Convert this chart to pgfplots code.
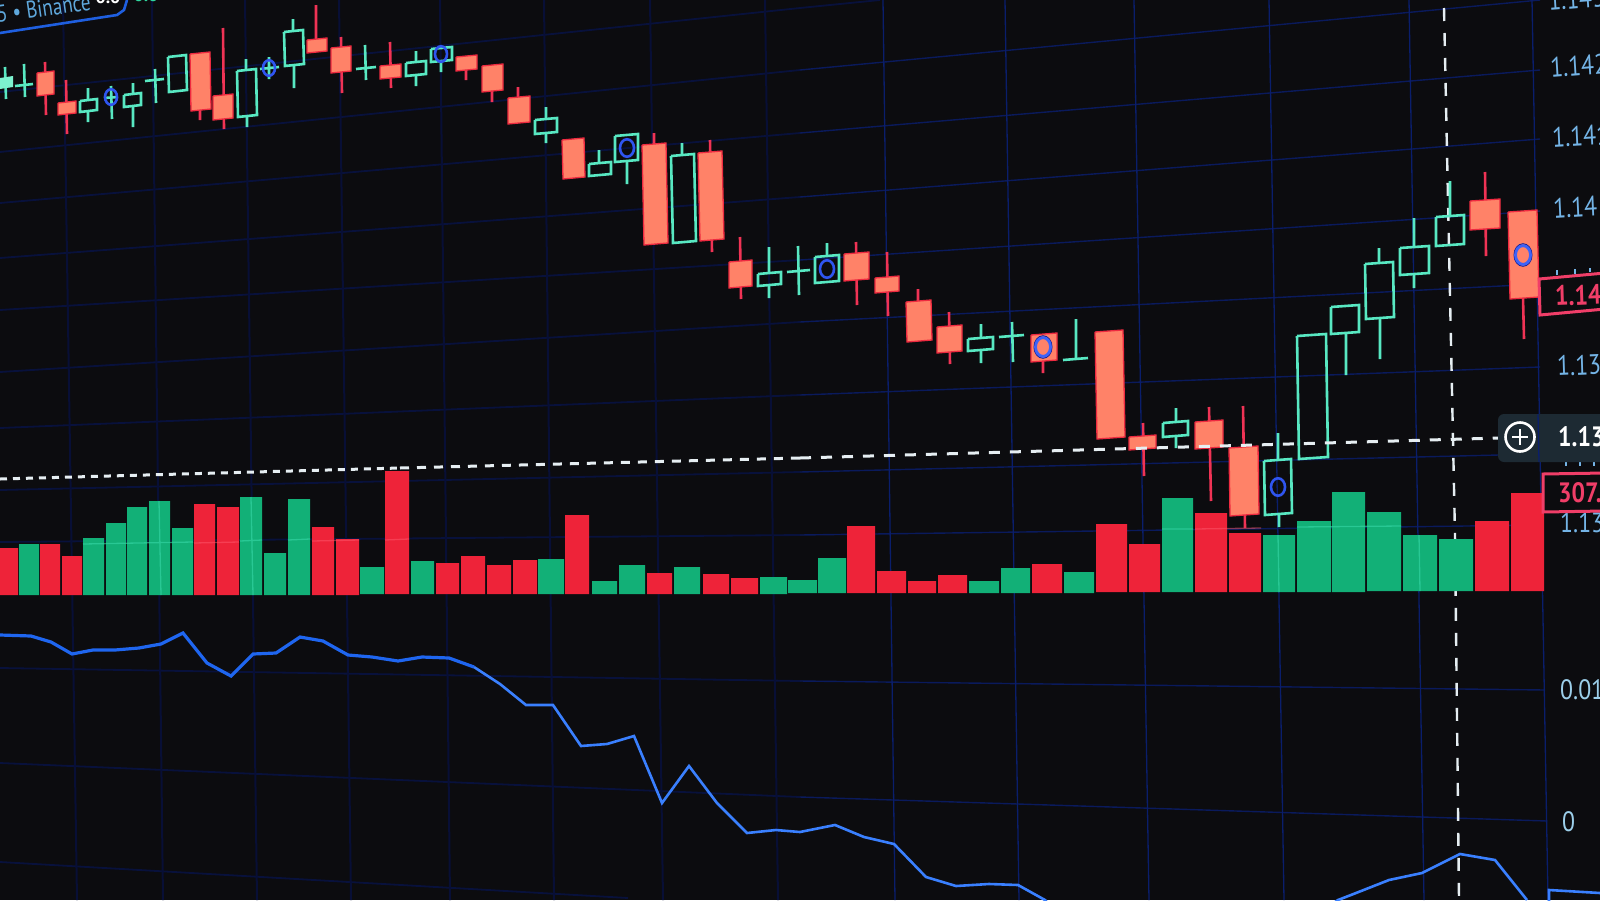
\documentclass[border=0pt]{standalone}
\usepackage{pgfplots}
\usepackage{fontspec}
\setmainfont{PT Sans}
\pgfplotsset{compat=1.18}
\definecolor{bg}{HTML}{0C0C0F}
\definecolor{gridL}{HTML}{08113C}
\definecolor{gridR}{HTML}{0A1A5C}
\definecolor{vgridL}{HTML}{080F36}
\definecolor{vgridR}{HTML}{0A1E6C}
\definecolor{hollowc}{HTML}{58E8C2}
\definecolor{bodyc}{HTML}{FF8268}
\definecolor{bodyedge}{HTML}{EE2A40}
\definecolor{wickc}{HTML}{F03355}
\definecolor{volR}{HTML}{EE2339}
\definecolor{volG}{HTML}{12B077}
\definecolor{ringc}{HTML}{2F55F0}
\definecolor{ringin}{HTML}{0B0B14}
\definecolor{ringdark}{HTML}{1A2090}
\definecolor{ringlight}{HTML}{3D62F8}
\definecolor{osc}{HTML}{1F66F0}
\definecolor{oscb}{HTML}{3A80FF}
\definecolor{axtext}{HTML}{74B4E6}
\definecolor{axtextb}{HTML}{9CCFEA}
\definecolor{pinkc}{HTML}{F03E68}
\definecolor{panelc}{HTML}{1D2A33}
\definecolor{dashc}{HTML}{E6EEF2}
\definecolor{glowG}{HTML}{38D8A8}
\definecolor{glowR}{HTML}{FF5A6E}
\definecolor{tealfill}{HTML}{7DF2CF}
\definecolor{badge}{HTML}{1F5FE0}
\definecolor{badgetxt}{HTML}{5FA8DC}
\definecolor{greentxt}{HTML}{2FD89F}
\begin{document}
\begin{tikzpicture}
\path[use as bounding box, clip] (0,0) rectangle (1600pt,900pt);
\fill[bg] (0,0) rectangle (1600pt,900pt);
\begin{axis}[at={(0,0)},anchor=south west,scale only axis,width=1600pt,height=900pt,
  xmin=0,xmax=1600,ymin=0,ymax=900,y dir=reverse,hide axis,unbounded coords=jump,
  every axis plot/.append style={line join=miter}]
% --- grid: horizontal
\addplot[gridL,line width=1.8,no marks] coordinates {
(0,92)(800,8)(880,0)(nan,nan)
(0,152)(800,70)(nan,nan)(0,203)(800,133)(nan,nan)(0,258)(800,197)(nan,nan)
(0,310)(800,260)(nan,nan)(0,372)(800,322)(nan,nan)(0,428)(800,395)(nan,nan)
(0,490)(800,472)(nan,nan)(0,542)(800,535)(nan,nan)
(0,668)(800,681)(nan,nan)(0,763)(800,797)(nan,nan)(0,862)(628,898)(nan,nan)};
\addplot[gridR,line width=1.4,no marks] coordinates {
(800,70)(1540,0)(nan,nan)(800,133)(1540,70)(nan,nan)(800,197)(1540,139)(nan,nan)
(800,260)(1540,211)(nan,nan)(800,322)(1540,284)(nan,nan)(800,395)(1540,367)(nan,nan)
(800,472)(1540,454)(nan,nan)(800,535)(1540,525)(nan,nan)
(800,681)(1545,690)(nan,nan)(800,797)(1547,821)(nan,nan)};
% --- grid: vertical
\addplot[vgridL,line width=2,no marks] coordinates {
(63,0)(77,900)(nan,nan)(152,0)(163,900)(nan,nan)(245,0)(257,900)(nan,nan)
(339,0)(351,900)(nan,nan)(440,0)(450,900)(nan,nan)(544,0)(554,900)(nan,nan)
(650,0)(663,900)(nan,nan)(765,0)(778,900)(nan,nan)};
\addplot[vgridR,line width=1.3,no marks] coordinates {
(883,0)(895,900)(nan,nan)(1005,0)(1019,900)(nan,nan)(1134,0)(1149,900)(nan,nan)
(1269,0)(1284,900)(nan,nan)(1409,0)(1424,900)(nan,nan)(1532,0)(1548,900)(nan,nan)};
% --- crosshair vertical
\addplot[dashc,line width=2.4,dash pattern=on 13pt off 12pt,no marks] coordinates {(1444,8)(1455,536)(1459,900)};
% --- volume
\addplot[fill=volR,draw=none,no marks] coordinates {
(0,548)(18,548)(18,595)(0,595)(nan,nan)
(40,544)(60,544)(60,595)(40,595)(nan,nan)
(62,556)(82,556)(82,595)(62,595)(nan,nan)
(194,504)(215,504)(215,595)(194,595)(nan,nan)
(217,507)(239,507)(239,595)(217,595)(nan,nan)
(312,527)(334,527)(334,595)(312,595)(nan,nan)
(336,539)(359,539)(359,595)(336,595)(nan,nan)
(385,471)(409,471)(409,594)(385,594)(nan,nan)
(436,563)(459,563)(459,594)(436,594)(nan,nan)
(461,556)(485,556)(485,594)(461,594)(nan,nan)
(487,565)(511,565)(511,594)(487,594)(nan,nan)
(513,560)(537,560)(537,594)(513,594)(nan,nan)
(565,515)(589,515)(589,594)(565,594)(nan,nan)
(647,573)(672,573)(672,594)(647,594)(nan,nan)
(703,574)(729,574)(729,594)(703,594)(nan,nan)
(731,578)(758,578)(758,594)(731,594)(nan,nan)
(847,526)(875,526)(875,593)(847,593)(nan,nan)
(877,571)(906,571)(906,593)(877,593)(nan,nan)
(908,581)(936,581)(936,593)(908,593)(nan,nan)
(938,575)(967,575)(967,593)(938,593)(nan,nan)
(1032,564)(1062,564)(1062,593)(1032,593)(nan,nan)
(1096,524)(1127,524)(1127,592)(1096,592)(nan,nan)
(1129,544)(1160,544)(1160,592)(1129,592)(nan,nan)
(1195,513)(1227,513)(1227,592)(1195,592)(nan,nan)
(1229,533)(1261,533)(1261,592)(1229,592)(nan,nan)
(1475,521)(1509,521)(1509,591)(1475,591)(nan,nan)
(1511,493)(1544,493)(1544,591)(1511,591)(nan,nan)};
\addplot[fill=volG,draw=none,no marks] coordinates {
(19,544)(39,544)(39,595)(19,595)(nan,nan)
(83,538)(104,538)(104,595)(83,595)(nan,nan)
(106,523)(126,523)(126,595)(106,595)(nan,nan)
(127,507)(147,507)(147,595)(127,595)(nan,nan)
(149,501)(170,501)(170,595)(149,595)(nan,nan)
(172,528)(193,528)(193,595)(172,595)(nan,nan)
(240,497)(262,497)(262,595)(240,595)(nan,nan)
(264,553)(286,553)(286,595)(264,595)(nan,nan)
(288,499)(310,499)(310,595)(288,595)(nan,nan)
(360,567)(384,567)(384,594)(360,594)(nan,nan)
(411,561)(434,561)(434,594)(411,594)(nan,nan)
(538,559)(564,559)(564,594)(538,594)(nan,nan)
(592,581)(617,581)(617,594)(592,594)(nan,nan)
(619,565)(645,565)(645,594)(619,594)(nan,nan)
(674,567)(700,567)(700,594)(674,594)(nan,nan)
(760,577)(787,577)(787,594)(760,594)(nan,nan)
(788,580)(817,580)(817,593)(788,593)(nan,nan)
(818,558)(846,558)(846,593)(818,593)(nan,nan)
(969,581)(999,581)(999,593)(969,593)(nan,nan)
(1001,568)(1030,568)(1030,593)(1001,593)(nan,nan)
(1064,572)(1094,572)(1094,593)(1064,593)(nan,nan)
(1162,498)(1193,498)(1193,592)(1162,592)(nan,nan)
(1263,535)(1295,535)(1295,592)(1263,592)(nan,nan)
(1297,521)(1331,521)(1331,592)(1297,592)(nan,nan)
(1332,492)(1365,492)(1365,592)(1332,592)(nan,nan)
(1367,512)(1401,512)(1401,591)(1367,591)(nan,nan)
(1403,535)(1437,535)(1437,591)(1403,591)(nan,nan)
(1439,539)(1473,539)(1473,591)(1439,591)(nan,nan)};
% grid glow through the bars
\addplot[glowG,line width=1.3,no marks,opacity=.6] coordinates {
(83,544)(193,542)(nan,nan)(240,541)(262,540)(nan,nan)(288,540)(310,539)(nan,nan)
(159,501)(161,595)(nan,nan)(251,497)(253,595)(nan,nan)
(1162,529)(1193,529)(nan,nan)(1297,527)(1401,526)(nan,nan)
(1278,535)(1279,592)(nan,nan)(1419,535)(1420,591)(nan,nan)};
\addplot[glowR,line width=1.3,no marks,opacity=.5] coordinates {
(194,543)(239,542)(nan,nan)(312,541)(359,540)(nan,nan)(385,540)(409,539)(nan,nan)(1195,529)(1261,528)(nan,nan)};
% --- red wicks
\addplot[wickc,line width=2.6,no marks] coordinates {
(45,62)(46,115)(nan,nan)(66,80)(67,134)(nan,nan)(200,110)(200,120)(nan,nan)
(223,28)(224,129)(nan,nan)(316,5)(316,39)(nan,nan)(341,37)(342,93)(nan,nan)
(390,42)(391,88)(nan,nan)(466,70)(466,80)(nan,nan)(492,91)(492,102)(nan,nan)
(518,87)(518,97)(nan,nan)(654,133)(654,144)(nan,nan)(710,140)(712,252)(nan,nan)
(740,237)(741,299)(nan,nan)(856,242)(857,305)(nan,nan)(887,252)(888,316)(nan,nan)
(918,289)(918,301)(nan,nan)(949,312)(950,364)(nan,nan)(1043,361)(1043,373)(nan,nan)
(1143,423)(1144,476)(nan,nan)(1209,407)(1211,501)(nan,nan)(1243,406)(1245,528)(nan,nan)
(1485,172)(1486,256)(nan,nan)(1523,298)(1524,339)(nan,nan)};
% --- red bodies
\addplot[fill=bodyc,draw=bodyedge,line width=1.3,no marks] coordinates {
(37,73)(54,71)(54,94)(37,96)(37,73)(nan,nan)
(58,103)(76,101)(76,113)(58,115)(58,103)(nan,nan)
(190,54)(210,52)(211,109)(191,111)(190,54)(nan,nan)
(213,96)(233,94)(233,118)(213,120)(213,96)(nan,nan)
(307,40)(327,38)(327,51)(307,53)(307,40)(nan,nan)
(331,48)(351,46)(351,71)(331,73)(331,48)(nan,nan)
(380,66)(401,64)(401,77)(380,79)(380,66)(nan,nan)
(456,57)(477,55)(477,69)(456,71)(456,57)(nan,nan)
(482,66)(503,64)(503,90)(482,92)(482,66)(nan,nan)
(508,98)(530,96)(530,122)(508,124)(508,98)(nan,nan)
(562,140)(584,138)(585,177)(563,179)(562,140)(nan,nan)
(642,145)(666,143)(668,243)(644,245)(642,145)(nan,nan)
(698,153)(722,151)(724,239)(700,241)(698,153)(nan,nan)
(729,262)(752,260)(752,286)(729,288)(729,262)(nan,nan)
(844,254)(869,252)(869,279)(844,281)(844,254)(nan,nan)
(875,278)(899,276)(899,291)(875,293)(875,278)(nan,nan)
(906,302)(931,300)(932,340)(907,342)(906,302)(nan,nan)
(937,327)(962,325)(962,351)(937,353)(937,327)(nan,nan)
(1031,335)(1057,333)(1057,360)(1031,362)(1031,335)(nan,nan)
(1095,332)(1123,330)(1125,437)(1097,439)(1095,332)(nan,nan)
(1129,437)(1156,435)(1156,448)(1129,450)(1129,437)(nan,nan)
(1195,422)(1223,420)(1223,447)(1195,449)(1195,422)(nan,nan)
(1229,448)(1258,446)(1259,514)(1230,516)(1229,448)(nan,nan)
(1470,201)(1500,199)(1500,228)(1470,230)(1470,201)(nan,nan)
(1508,212)(1537,210)(1539,297)(1510,299)(1508,212)(nan,nan)};
% --- teal wicks, dojis
\addplot[hollowc,line width=2.6,no marks] coordinates {
(5,67)(6,99)(nan,nan)
(24,64)(25,97)(nan,nan)(15,86)(33,84)(nan,nan)
(88,88)(88,100)(nan,nan)(88,111)(88,122)(nan,nan)
(111,86)(112,119)(nan,nan)(104,98)(118,97)(nan,nan)
(133,83)(133,94)(nan,nan)(133,106)(133,127)(nan,nan)
(155,69)(156,103)(nan,nan)(145,81)(164,79)(nan,nan)
(246,59)(246,70)(nan,nan)(247,116)(247,127)(nan,nan)
(269,57)(269,79)(nan,nan)(260,69)(279,67)(nan,nan)
(293,19)(293,31)(nan,nan)(294,65)(294,88)(nan,nan)
(365,45)(366,80)(nan,nan)(356,69)(376,67)(nan,nan)
(416,51)(416,62)(nan,nan)(416,75)(416,86)(nan,nan)
(441,61)(441,72)(nan,nan)
(546,107)(546,119)(nan,nan)(546,133)(546,143)(nan,nan)
(599,150)(599,163)(nan,nan)
(627,161)(627,184)(nan,nan)
(682,143)(682,155)(nan,nan)
(769,247)(769,273)(nan,nan)(769,285)(769,298)(nan,nan)
(798,246)(799,295)(nan,nan)(787,272)(810,270)(nan,nan)
(827,243)(827,256)(nan,nan)
(981,324)(981,338)(nan,nan)(981,350)(981,363)(nan,nan)
(1012,322)(1013,362)(nan,nan)(999,337)(1024,335)(nan,nan)
(1076,319)(1076,359)(nan,nan)(1063,360)(1088,358)(nan,nan)
(1176,408)(1176,422)(nan,nan)(1176,436)(1176,448)(nan,nan)
(1278,433)(1278,460)(nan,nan)(1279,514)(1279,527)(nan,nan)
(1346,333)(1346,375)(nan,nan)
(1379,248)(1379,263)(nan,nan)(1380,318)(1380,359)(nan,nan)
(1414,218)(1414,247)(nan,nan)(1414,274)(1414,288)(nan,nan)
(1450,181)(1450,216)(nan,nan)};
% --- teal filled first candle
\addplot[fill=tealfill,draw=none,no marks] coordinates {(0,78)(13,76)(13,87)(0,89)(0,78)};
% --- teal hollow bodies
\addplot[hollowc,line width=2.6,no marks] coordinates {
(80,101)(97,99)(97,110)(80,112)(80,101)(nan,nan)
(124,95)(141,93)(141,105)(124,107)(124,95)(nan,nan)
(168,57)(186,55)(187,90)(169,92)(168,57)(nan,nan)
(237,71)(256,69)(257,115)(238,117)(237,71)(nan,nan)
(284,32)(303,30)(304,64)(285,66)(284,32)(nan,nan)
(406,63)(426,61)(426,74)(406,76)(406,63)(nan,nan)
(431,49)(452,47)(452,60)(431,62)(431,49)(nan,nan)
(535,120)(557,118)(557,132)(535,134)(535,120)(nan,nan)
(589,164)(611,162)(611,174)(589,176)(589,164)(nan,nan)
(615,136)(638,134)(638,160)(615,162)(615,136)(nan,nan)
(671,156)(694,154)(696,241)(673,243)(671,156)(nan,nan)
(758,274)(781,272)(781,284)(758,286)(758,274)(nan,nan)
(815,257)(839,255)(839,281)(815,283)(815,257)(nan,nan)
(968,339)(993,337)(993,349)(968,351)(968,339)(nan,nan)
(1163,423)(1188,421)(1188,435)(1163,437)(1163,423)(nan,nan)
(1264,461)(1291,459)(1292,513)(1265,515)(1264,461)(nan,nan)
(1297,336)(1326,334)(1328,457)(1299,459)(1297,336)(nan,nan)
(1331,307)(1359,305)(1359,332)(1331,334)(1331,307)(nan,nan)
(1365,264)(1393,262)(1394,317)(1366,319)(1365,264)(nan,nan)
(1400,248)(1429,246)(1429,273)(1400,275)(1400,248)(nan,nan)
(1436,217)(1464,215)(1464,244)(1436,246)(1436,217)(nan,nan)};
% --- signal rings
\addplot[only marks,mark=o,mark size=6,mark options={draw=ringc,fill=ringin,line width=2.6,yscale=1.3}]
  coordinates {(111,97)(269,68)(441,54)};
\addplot[only marks,mark=o,mark size=7,mark options={draw=ringc,fill=ringin,line width=2.6,yscale=1.25}]
  coordinates {(627,148)(827,269)(1278,487)};
\addplot[only marks,mark=o,mark size=9,mark options={draw=ringdark,fill=ringdark,line width=1,yscale=1.25}]
  coordinates {(1043,347)(1523,255)};
\addplot[only marks,mark=o,mark size=7.5,mark options={draw=ringlight,fill=ringin,line width=2.8,yscale=1.25}]
  coordinates {(1043,347)(1523,255)};
% --- crosshair horizontal
\addplot[dashc,line width=3,dash pattern=on 7pt off 6pt,no marks] coordinates {(0,479)(400,468)};
\addplot[dashc,line width=3,dash pattern=on 9pt off 8pt,no marks] coordinates {(400,468)(800,458)};
\addplot[dashc,line width=3,dash pattern=on 11pt off 10pt,no marks] coordinates {(800,458)(1499,438)};
% --- oscillator
\addplot[osc,line width=3.2,no marks] coordinates {
(0,635)(31,636)(51,642)(72,654)(93,650)(115,650)(139,648)(161,644)(183,633)(207,663)(231,676)(253,654)(276,653)(300,637)(323,641)(348,655)(372,657)(398,661)(422,657)(449,658)(474,667)};
\addplot[oscb,line width=2.6,no marks] coordinates {
(474,667)(500,684)(526,705)(553,705)(581,746)(607,744)(634,736)(662,803)(689,766)(717,803)(747,833)(776,830)(800,832)(835,825)(864,837)(894,844)(926,877)(956,886)(989,884)(1018,885)(1045,900)(1100,960)(1250,960)(1338,900)(1356,893)(1389,880)(1422,873)(1460,854)(1495,860)(1527,900)};
\addplot[oscb,line width=2.6,no marks] coordinates {(1549,901)(1549,890)(1600,893)};
% --- Binance badge
\addplot[badge,line width=2.6,no marks] coordinates {(0,33)(117,15)(124,10)(127,0)};
\node[anchor=base west,rotate=8,text=badgetxt,inner sep=0pt,xscale=.8,transform shape] at (axis cs:-2,23) {\fontsize{24}{26}\selectfont 5 • Binance};
\node[anchor=base,text=white,inner sep=0pt] at (axis cs:108,3) {\fontsize{18}{20}\selectfont\bfseries 0.0};
\node[anchor=base,text=greentxt,inner sep=0pt] at (axis cs:146,1) {\fontsize{18}{20}\selectfont\bfseries 0.0};
% --- right scale
\tikzset{lab/.style={anchor=west,inner sep=0pt,text=axtext,xscale=.85,transform shape},
         big/.style={font=\fontsize{28}{30}\selectfont}}
\node[lab,big,rotate=4] at (axis cs:1548,1) {1.143};
\node[lab,big,rotate=4] at (axis cs:1550,68) {1.142};
\node[lab,big,rotate=3] at (axis cs:1552,138) {1.141};
\node[lab,big,rotate=3] at (axis cs:1553,209) {1.14};
\node[lab,big,rotate=2] at (axis cs:1557,366) {1.13};
\node[lab,big] at (axis cs:1560,523) {1.13};
\node[lab,big,text=axtextb] at (axis cs:1560,690) {0.01};
\node[lab,big,text=axtextb] at (axis cs:1562,822) {0};
% tips of the scale labels that the tags cover
\addplot[axtext,line width=2,no marks] coordinates {
(1557,270)(1557,275)(nan,nan)(1575,269)(1575,274)(nan,nan)(1590,268)(1590,272)(nan,nan)
(1566,462)(1566,466)(nan,nan)(1580,462)(1580,466)(nan,nan)(1594,462)(1594,466)(nan,nan)};
% price tag
\filldraw[fill=bg,draw=pinkc,line width=3] (axis cs:1539,279) -- (axis cs:1605,273) -- (axis cs:1605,309) -- (axis cs:1540,315) -- cycle;
\node[lab,big,text=pinkc,rotate=2] at (axis cs:1555,296) {\bfseries 1.14};
% volume tag
\filldraw[fill=bg,draw=pinkc,line width=3] (axis cs:1543,474) -- (axis cs:1605,473) -- (axis cs:1605,511) -- (axis cs:1543,512) -- cycle;
\node[lab,big,text=pinkc] at (axis cs:1558,493) {\bfseries 307.};
% crosshair panel
\fill[panelc,rounded corners=6pt] (axis cs:1498,414) rectangle (axis cs:1620,462);
\addplot[vgridR,line width=1.3,no marks] coordinates {(1538,414)(1539,462)};
\draw[white,line width=2.6] (axis cs:1520,437) circle[radius=14.5pt];
\draw[white,line width=2.6] (axis cs:1512,437) -- (axis cs:1528,437) (axis cs:1520,429) -- (axis cs:1520,445);
\node[lab,big,text=white] at (axis cs:1558,437) {\bfseries 1.13};
\end{axis}
\end{tikzpicture}
\end{document}
